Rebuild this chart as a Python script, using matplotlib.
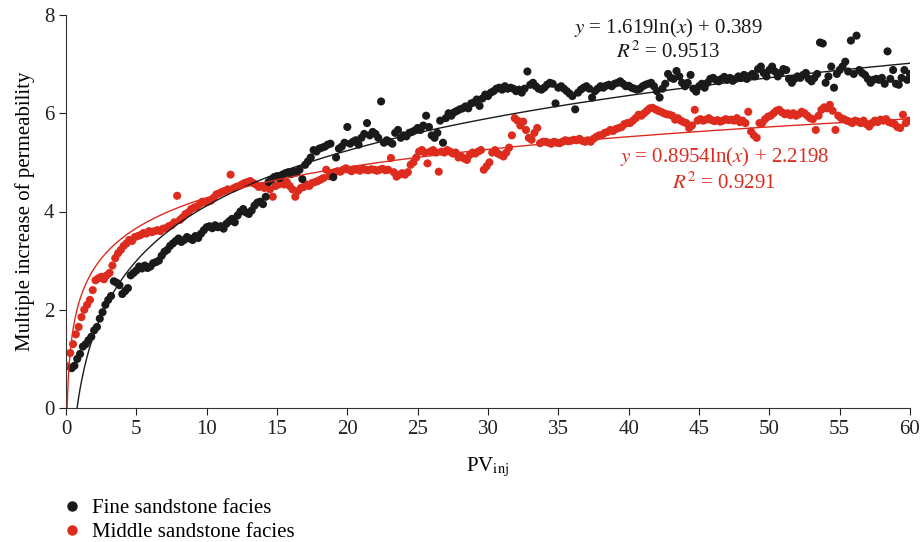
import numpy as np
import matplotlib
matplotlib.use("Agg")
import matplotlib.pyplot as plt
from matplotlib.lines import Line2D

# ---------------- data ----------------
# Fine sandstone facies: PV 0.4 .. 60.0, step 0.2
fine_pv = np.round(np.arange(0.4, 60.0001, 0.2), 1)
fine_y = [
    0.81, 0.86, 1.00, 1.10, 1.25, 1.30, 1.38, 1.45, 1.58, 1.65,
    1.82, 1.95, 2.10, 2.20, 2.28, 2.58, 2.55, 2.50, 2.32, 2.38,
    2.44, 2.70, 2.75, 2.80, 2.88, 2.84, 2.90, 2.85, 2.88, 2.95,
    2.97, 3.00, 3.10, 3.18, 3.22, 3.30, 3.35, 3.40, 3.45, 3.38,
    3.42, 3.48, 3.45, 3.42, 3.50, 3.46, 3.55, 3.62, 3.68, 3.70,
    3.66, 3.72, 3.68, 3.70, 3.65, 3.75, 3.80, 3.85, 3.78, 3.92,
    4.00, 4.05, 3.98, 3.95, 4.02, 4.12, 4.18, 4.20, 4.15, 4.30,
    4.60, 4.65, 4.70, 4.72, 4.68, 4.75, 4.78, 4.80, 4.76, 4.82,
    4.80, 4.85, 4.66, 4.95, 5.02, 5.10, 5.25, 5.22, 5.28, 5.30,
    5.32, 5.36, 5.38, 4.70, 5.10, 5.28, 5.32, 5.40, 5.72, 5.38,
    5.42, 5.45, 5.36, 5.50, 5.58, 5.80, 5.55, 5.62, 5.58, 5.50,
    6.24, 5.40, 5.45, 5.42, 5.38, 5.60, 5.66, 5.50, 5.55, 5.53,
    5.60, 5.62, 5.65, 5.70, 5.66, 5.75, 5.95, 5.72, 5.55, 5.50,
    5.60, 5.85, 5.40, 5.90, 6.00, 5.95, 6.02, 6.05, 6.08, 6.10,
    6.14, 6.10, 6.20, 6.22, 6.28, 6.15, 6.30, 6.38, 6.35, 6.42,
    6.45, 6.50, 6.52, 6.48, 6.55, 6.50, 6.52, 6.50, 6.45, 6.48,
    6.42, 6.50, 6.85, 6.58, 6.62, 6.55, 6.50, 6.48, 6.52, 6.58,
    6.62, 6.60, 6.20, 6.52, 6.55, 6.50, 6.45, 6.40, 6.35, 6.08,
    6.42, 6.48, 6.52, 6.55, 6.50, 6.32, 6.45, 6.50, 6.55, 6.52,
    6.56, 6.58, 6.55, 6.60, 6.62, 6.65, 6.60, 6.55, 6.56, 6.52,
    6.50, 6.48, 6.50, 6.55, 6.58, 6.60, 6.62, 6.55, 6.45, 6.32,
    6.50, 6.60, 6.80, 6.72, 6.70, 6.86, 6.75, 6.62, 6.55, 6.62,
    6.78, 6.50, 6.44, 6.55, 6.60, 6.52, 6.62, 6.70, 6.72, 6.68,
    6.65, 6.70, 6.74, 6.68, 6.72, 6.66, 6.70, 6.75, 6.72, 6.78,
    6.70, 6.76, 6.80, 6.75, 6.90, 6.95, 6.82, 6.75, 6.88, 6.95,
    6.85, 6.75, 6.82, 6.90, 6.88, 6.70, 6.62, 6.70, 6.75, 6.72,
    6.78, 6.82, 6.70, 6.65, 6.72, 6.80, 7.44, 7.42, 6.62, 6.75,
    6.95, 6.52, 6.80, 6.88, 6.95, 7.05, 6.85, 7.48, 6.80, 7.58,
    6.88, 6.82, 6.78, 6.70, 6.62, 6.68, 6.70, 6.68, 6.72, 6.60,
    7.26, 6.70, 6.88, 6.60, 6.58, 6.72, 6.88, 6.68, 6.80,
]

# Middle sandstone facies: PV 0.1 .. 59.9, step 0.2
middle_pv = np.round(np.arange(0.1, 59.9001, 0.2), 1)
middle_y = [
    0.85, 1.12, 1.30, 1.50, 1.65, 1.85, 2.00, 2.10, 2.20, 2.40,
    2.60, 2.64, 2.67, 2.62, 2.70, 2.75, 2.90, 3.05, 3.15, 3.22,
    3.30, 3.35, 3.42, 3.40, 3.48, 3.50, 3.52, 3.56, 3.55, 3.60,
    3.58, 3.60, 3.62, 3.60, 3.65, 3.66, 3.70, 3.72, 3.78, 4.32,
    3.83, 3.88, 3.95, 3.98, 4.05, 4.08, 4.10, 4.15, 4.20, 4.18,
    4.20, 4.22, 4.28, 4.35, 4.37, 4.40, 4.42, 4.45, 4.75, 4.47,
    4.50, 4.52, 4.55, 4.58, 4.60, 4.62, 4.58, 4.55, 4.50, 4.52,
    4.48, 4.50, 4.45, 4.30, 4.52, 4.55, 4.58, 4.55, 4.60, 4.52,
    4.45, 4.30, 4.42, 4.48, 4.50, 4.55, 4.52, 4.58, 4.60, 4.62,
    4.65, 4.68, 4.85, 4.72, 4.78, 4.80, 4.82, 4.81, 4.85, 4.88,
    4.85, 4.82, 4.86, 4.85, 4.83, 4.87, 4.85, 4.84, 4.86, 4.85,
    4.83, 4.85, 4.87, 4.84, 4.85, 5.09, 4.80, 4.71, 4.75, 4.78,
    4.75, 4.80, 4.95, 5.00, 5.10, 5.22, 5.25, 5.20, 4.98, 5.22,
    5.25, 5.20, 4.81, 5.22, 5.20, 5.25, 5.22, 5.18, 5.20, 5.10,
    5.12, 5.08, 5.05, 5.15, 5.20, 5.18, 5.22, 5.25, 4.85, 4.92,
    5.00, 5.20, 5.25, 5.18, 5.15, 5.12, 5.20, 5.30, 5.55, 5.90,
    5.85, 5.75, 5.83, 5.66, 5.50, 5.46, 5.60, 5.70, 5.39, 5.42,
    5.42, 5.40, 5.38, 5.42, 5.40, 5.39, 5.42, 5.45, 5.43, 5.44,
    5.46, 5.45, 5.48, 5.44, 5.42, 5.45, 5.42, 5.48, 5.52, 5.55,
    5.56, 5.60, 5.62, 5.66, 5.64, 5.68, 5.70, 5.72, 5.78, 5.80,
    5.80, 5.85, 5.90, 5.97, 5.95, 6.00, 6.05, 6.10, 6.11, 6.08,
    6.05, 6.03, 6.00, 5.98, 5.97, 5.95, 5.87, 5.90, 5.85, 5.82,
    5.80, 5.70, 5.75, 6.07, 5.85, 5.88, 5.85, 5.87, 5.90, 5.86,
    5.84, 5.86, 5.83, 5.85, 5.88, 5.86, 5.87, 5.85, 5.90, 5.82,
    5.85, 5.80, 6.03, 5.63, 5.55, 5.50, 5.80, 5.80, 5.88, 5.93,
    5.95, 6.00, 6.05, 6.07, 6.02, 5.98, 6.00, 5.96, 6.00, 5.95,
    5.98, 6.03, 6.00, 5.95, 5.90, 5.88, 5.66, 5.95, 6.07, 6.12,
    6.10, 6.17, 6.05, 5.66, 5.95, 5.90, 5.88, 5.85, 5.83, 5.80,
    5.85, 5.83, 5.80, 5.85, 5.78, 5.73, 5.80, 5.85, 5.82, 5.87,
    5.85, 5.88, 5.82, 5.80, 5.78, 5.72, 5.70, 5.97, 5.80, 5.85,
]

# logarithmic trend lines  y = a ln(x) + b
fine_fit = (1.619, 0.389)
middle_fit = (0.8954, 2.2198)

labels = ["Fine sandstone facies", "Middle sandstone facies"]
x_ticks = [0, 5, 10, 15, 20, 25, 30, 35, 40, 45, 50, 55, 60]
y_ticks = [0, 2, 4, 6, 8]

BLACK = "#1a1a1a"
RED = "#dd2c1e"

# ---------------- style ----------------
plt.rcParams["font.family"] = ["Liberation Serif", "DejaVu Serif"]
plt.rcParams["mathtext.fontset"] = "stix"

fig = plt.figure(figsize=(9.24, 5.42), dpi=100)
ax = fig.add_axes([66 / 924, 1 - 408 / 542, (910 - 66) / 924, (408 - 15) / 542])

ax.scatter(middle_pv, middle_y, s=34, color=RED, edgecolors="none", zorder=2)
ax.scatter(fine_pv, fine_y, s=34, color=BLACK, edgecolors="none", zorder=3)

a, b = fine_fit
x0 = np.exp(-b / a)
xf = np.linspace(x0, 60, 600)
ax.plot(xf, a * np.log(xf) + b, color=BLACK, lw=1.0, zorder=4)

a, b = middle_fit
x0 = np.exp(-b / a)
xm = np.geomspace(x0, 60, 800)
ax.plot(xm, a * np.log(xm) + b, color=RED, lw=1.0, zorder=4)

ax.set_xlim(0, 60)
ax.set_ylim(0, 8)
ax.set_xticks(x_ticks)
ax.set_yticks(y_ticks)
ax.tick_params(axis="both", direction="out", length=5, width=0.8,
               labelsize=15, colors="#222222")
for side in ["top", "right"]:
    ax.spines[side].set_visible(False)
for side in ["left", "bottom"]:
    ax.spines[side].set_linewidth(0.8)
    ax.spines[side].set_color("#333333")

ax.set_xlabel(r"PV$_{\mathrm{inj}}$", fontsize=15, labelpad=12)
ax.set_ylabel("Multiple increase of permeability", fontsize=15, labelpad=6)

ax.text(42.8, 7.72, r"$y$ = 1.619ln($x$) + 0.389", fontsize=15,
        ha="center", va="center", color=BLACK)
ax.text(42.8, 7.24, r"$R^2$ = 0.9513", fontsize=15,
        ha="center", va="center", color=BLACK)
ax.text(46.8, 5.09, r"$y$ = 0.8954ln($x$) + 2.2198", fontsize=15,
        ha="center", va="center", color=RED)
ax.text(46.8, 4.58, r"$R^2$ = 0.9291", fontsize=15,
        ha="center", va="center", color=RED)

handles = [
    Line2D([], [], ls="none", marker="o", ms=6.5, color=BLACK),
    Line2D([], [], ls="none", marker="o", ms=6.5, color=RED),
]
fig.legend(handles, labels, loc="upper left", bbox_to_anchor=(0.067, 0.080),
           frameon=False, fontsize=15, handletextpad=0.45, labelspacing=0.22,
           handlelength=1.0, borderaxespad=0, borderpad=0)

fig.savefig("out.png", dpi=100)
